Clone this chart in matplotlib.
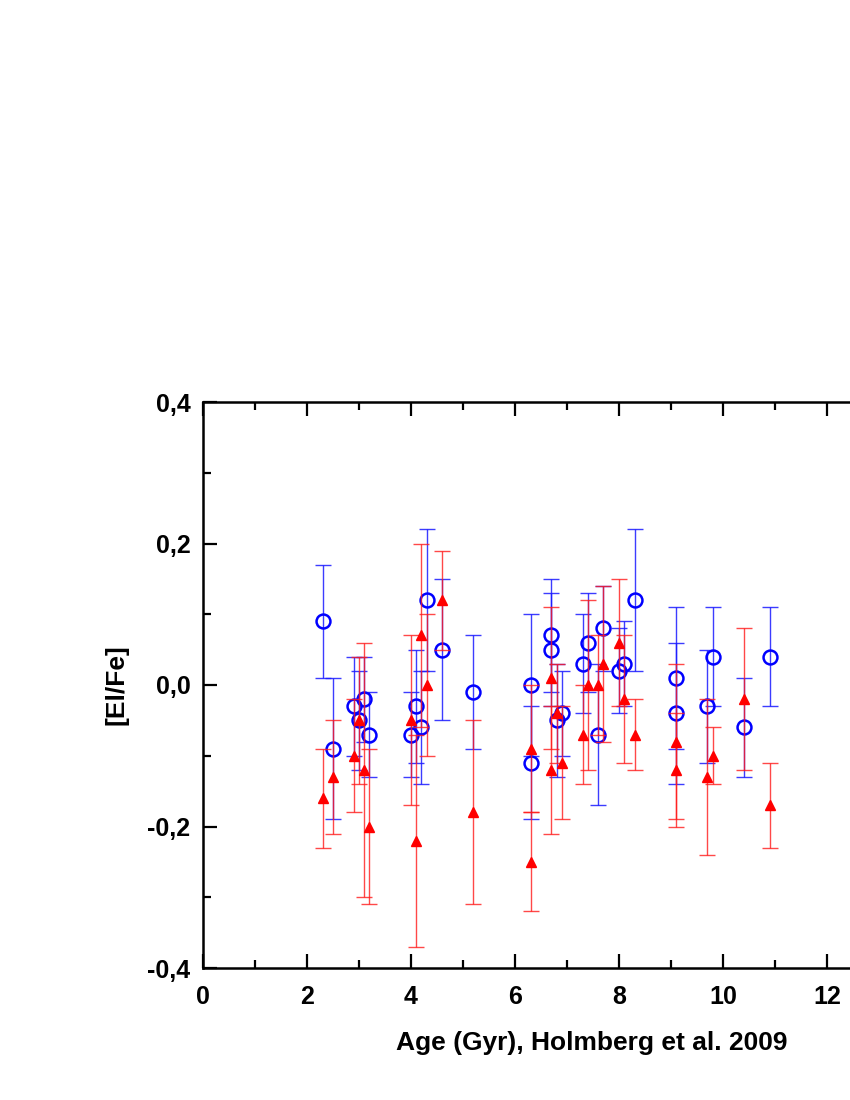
import matplotlib
matplotlib.use("Agg")
import matplotlib.pyplot as plt
from matplotlib.ticker import MultipleLocator, FuncFormatter

plt.rcParams['font.family'] = ['Liberation Sans', 'DejaVu Sans']
plt.rcParams['font.weight'] = 'bold'

age = [2.3, 2.5, 2.9, 3.0, 3.1, 3.2, 4.0, 4.1, 4.2, 4.3, 4.6, 5.2,
       6.3, 6.3, 6.7, 6.7, 6.8, 6.9, 7.3, 7.4, 7.6, 7.7, 8.0, 8.1, 8.3,
       9.1, 9.1, 9.7, 9.8, 10.4, 10.9]
blue_val = [0.09, -0.09, -0.03, -0.05, -0.02, -0.07, -0.07, -0.03, -0.06, 0.12, 0.05, -0.01,
            0.00, -0.11, 0.07, 0.05, -0.05, -0.04, 0.03, 0.06, -0.07, 0.08, 0.02, 0.03, 0.12,
            0.01, -0.04, -0.03, 0.04, -0.06, 0.04]
blue_err = [0.08, 0.10, 0.07, 0.07, 0.06, 0.06, 0.06, 0.08, 0.08, 0.10, 0.10, 0.08,
            0.10, 0.08, 0.08, 0.08, 0.08, 0.06, 0.07, 0.07, 0.10, 0.06, 0.06, 0.06, 0.10,
            0.10, 0.10, 0.08, 0.07, 0.07, 0.07]
red_val = [-0.16, -0.13, -0.10, -0.05, -0.12, -0.20, -0.05, -0.22, 0.07, 0.00, 0.12, -0.18,
           -0.09, -0.25, 0.01, -0.12, -0.04, -0.11, -0.07, 0.00, 0.00, 0.03, 0.06, -0.02, -0.07,
           -0.08, -0.12, -0.13, -0.10, -0.02, -0.17]
red_err = [0.07, 0.08, 0.08, 0.09, 0.18, 0.11, 0.12, 0.15, 0.13, 0.10, 0.07, 0.13,
           0.09, 0.07, 0.10, 0.09, 0.07, 0.08, 0.07, 0.12, 0.07, 0.11, 0.09, 0.09, 0.05,
           0.11, 0.08, 0.11, 0.04, 0.10, 0.06]

fig = plt.figure(figsize=(8.5, 11), dpi=100)
ax_w = 14 * 52 / 850
ax = fig.add_axes([203 / 850, 132 / 1100, ax_w, 566 / 1100])

ax.errorbar(age, blue_val, yerr=blue_err, fmt='none', ecolor=(0.1, 0.1, 1.0, 0.85),
            elinewidth=1.0, capsize=5.5, capthick=1.0, zorder=2)
ax.plot(age, blue_val, 'o', ms=10, mfc='none', mec='#0000ff', mew=1.8, zorder=3)
ax.errorbar(age, red_val, yerr=red_err, fmt='none', ecolor=(1.0, 0.1, 0.1, 0.8),
            elinewidth=1.0, capsize=5.5, capthick=1.0, zorder=4)
ax.plot(age, red_val, '^', ms=7.5, color='#ff0000', mec='#ff0000', zorder=5)

ax.set_xlim(0, 14)
ax.set_ylim(-0.4, 0.4)
ax.xaxis.set_major_locator(MultipleLocator(2))
ax.xaxis.set_minor_locator(MultipleLocator(1))
ax.yaxis.set_major_locator(MultipleLocator(0.2))
ax.yaxis.set_minor_locator(MultipleLocator(0.1))
ax.yaxis.set_major_formatter(FuncFormatter(lambda v, p: ('%.1f' % v).replace('.', ',')))
ax.xaxis.set_major_formatter(FuncFormatter(lambda v, p: '%d' % round(v) if v <= 12.5 else ''))

for s in ax.spines.values():
    s.set_linewidth(1.8)
ax.tick_params(which='both', direction='in', top=True, right=True, width=1.6,
               labelsize=18)
ax.tick_params(axis='y', pad=9)
ax.tick_params(axis='x', pad=12)
ax.tick_params(which='major', length=10)
ax.tick_params(which='minor', length=6)
for lab in ax.get_xticklabels() + ax.get_yticklabels():
    lab.set_fontweight('bold')

ax.set_xlabel('Age (Gyr), Holmberg et al. 2009', fontsize=19, fontweight='bold')
ax.set_ylabel('[El/Fe]', fontsize=19, fontweight='bold')
ax.xaxis.set_label_coords((592 - 203) / (14 * 52), -(1031 - 968) / 566)
ax.yaxis.set_label_coords((129 - 203) / (14 * 52), 0.5)

fig.savefig('out.png', dpi=100)
